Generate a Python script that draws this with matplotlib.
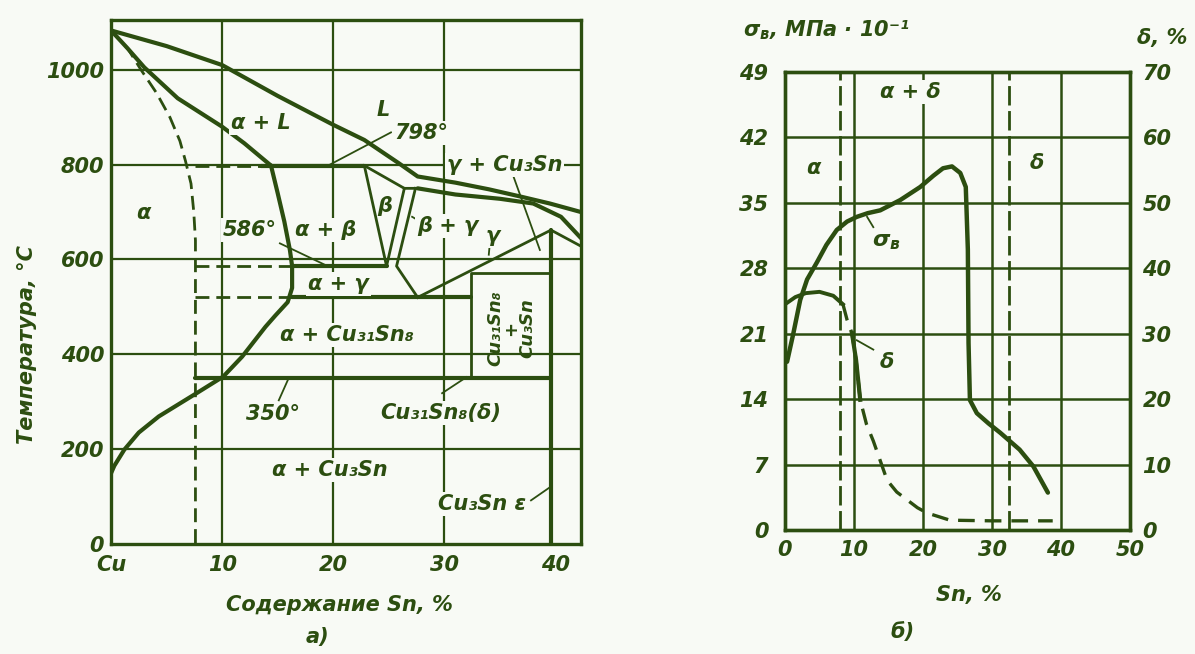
import matplotlib.pyplot as plt

W, H = 1195, 654
INK = '#2c4e10'
PAPER = '#f8faf5'

plt.rcParams['mathtext.fontset'] = 'custom'
plt.rcParams['mathtext.rm'] = 'DejaVu Sans:italic:bold'
plt.rcParams['mathtext.it'] = 'DejaVu Sans:italic:bold'

# ---------- a) Cu-Sn phase diagram (Sn, wt.% / temperature, °C) ----------
liquidus_sn = [0, 5, 10, 15, 20, 22.8, 25.9, 27.6, 31, 34, 36.8, 39.5, 42.3]
liquidus_t = [1083, 1050, 1010, 945, 884, 852, 803, 775, 762, 748, 733, 718, 700]
solidus_sn = [0, 1.5, 3, 6, 10, 12, 14.4]
solidus_t = [1083, 1045, 1005, 940, 880, 845, 798]
nonequil_sn = [0, 1.5, 2.7, 4.1, 5.3, 6.2, 6.7, 7.2, 7.45, 7.6, 7.6]
nonequil_t = [1083, 1045, 1000, 951, 900, 850, 808, 760, 700, 640, 0]
alpha_sn = [14.4, 15.0, 15.6, 16.1, 16.3, 16.3, 15.9, 14.8, 13.9, 11.8, 10.1, 7.7, 4.3, 2.5, 1.2, 0.3, 0]
alpha_t = [798, 740, 680, 620, 586, 540, 510, 482, 458, 395, 353, 318, 269, 235, 199, 165, 149]
beta_left_sn = [22.8, 24.8]
beta_left_t = [798, 586]
beta_top_sn = [22.8, 26.4, 27.6]
beta_top_t = [798, 750, 750]
beta_right_sn = [26.4, 24.8]
beta_right_t = [750, 586]
gamma_left_sn = [27.4, 25.7, 27.6]
gamma_left_t = [750, 586, 520]
gamma_top_sn = [27.6, 31, 35, 38, 40.5, 42.3]
gamma_top_t = [750, 737, 728, 718, 690, 645]
gamma_eut_sn = [27.6, 39.6]
gamma_eut_t = [520, 662]
apex_sn = [39.6, 42.3]
apex_t = [662, 628]
eps_sn = [39.6, 39.6]
eps_t = [0, 662]
box_sn = [32.4, 32.4, 39.6]
box_t = [350, 571, 571]

# isotherms: temperature, dashed from, solid from, solid to
iso_t = [798, 586, 520, 350]
iso_dash_from = [7.6, 7.6, 7.6, 7.6]
iso_solid_from = [13.5, 16.3, 16.3, 7.6]
iso_solid_to = [22.8, 24.8, 32.4, 39.6]

# ---------- б) properties vs Sn ----------
sigma_sn = [0.3, 1.2, 2.2, 3.2, 4.6, 6.0, 7.5, 9.0, 10.4, 12.0, 13.8, 16.7, 19.6, 21.5, 22.9,
            24.2, 25.4, 26.2, 26.5, 26.6, 26.8, 27.8, 29.5, 31.2, 34.0, 36.0, 38.1]
sigma_mpa = [18.0, 21.0, 24.6, 26.8, 28.6, 30.5, 32.1, 33.0, 33.5, 33.9, 34.2, 35.3, 36.7, 37.9, 38.7,
             38.9, 38.2, 36.7, 30.0, 20.0, 13.9, 12.5, 11.4, 10.4, 8.6, 6.8, 4.0]
delta_sn = [0, 1.5, 3, 5, 7, 8.4, 9.0, 9.7, 10.3, 10.9, 11.8, 12.8, 14.8, 16.2, 17.7, 19.2, 20.6, 23.9, 30, 38.8]
delta_pct = [34.5, 35.6, 36.2, 36.4, 35.8, 34.5, 32.1, 30.1, 26.0, 19.9, 16.2, 13.6, 7.6, 5.8, 4.6, 3.4, 2.6, 1.5, 1.4, 1.4]
phase_limits = [8, 32.5]

left_yticks = [0, 200, 400, 600, 800, 1000]
left_xticks = [0, 10, 20, 30, 40]
left_xlabels = ['Cu', '10', '20', '30', '40']
right_sigma_ticks = [0, 7, 14, 21, 28, 35, 42, 49]
right_delta_ticks = [0, 10, 20, 30, 40, 50, 60, 70]
right_xticks = [0, 10, 20, 30, 40, 50]

FONT = dict(family='DejaVu Sans', style='italic', weight='bold', color=INK)
BOX = dict(facecolor=PAPER, edgecolor='none', pad=1.5)

fig = plt.figure(figsize=(W / 100, H / 100), dpi=100, facecolor=PAPER)


def style_axes(ax):
    ax.set_facecolor(PAPER)
    for s in ax.spines.values():
        s.set_color(INK)
        s.set_linewidth(2.4)
    ax.tick_params(length=0, colors=INK, labelsize=15)
    for lab in ax.get_xticklabels() + ax.get_yticklabels():
        lab.set_fontstyle('italic')
        lab.set_fontweight('bold')


def txt(ax, x, y, s, size=15, box=True, **kw):
    ax.text(x, y, s, ha='center', va='center', fontsize=size, zorder=5,
            bbox=BOX if box else None, **FONT, **kw)


# ================= left panel =================
ax = fig.add_axes([111 / W, 1 - 544 / H, 470 / W, 524 / H])
ax.set_xlim(0, 42.3)
ax.set_ylim(0, 1105)
ax.set_xticks(left_xticks, left_xlabels)
ax.set_yticks(left_yticks)
ax.tick_params(axis='x', pad=8)
ax.tick_params(axis='y', pad=5)
style_axes(ax)

for x in left_xticks[1:4]:
    ax.axvline(x, color=INK, lw=1.6, zorder=1)
for y in left_yticks[1:]:
    ax.axhline(y, color=INK, lw=1.6, zorder=1)

thick = dict(color=INK, lw=3.0, solid_capstyle='round', zorder=3)
thin = dict(color=INK, lw=2.0, zorder=3)
dash = dict(color=INK, lw=2.0, ls=(0, (5, 2.5)), zorder=3)

ax.plot(liquidus_sn, liquidus_t, **thick)
ax.plot(solidus_sn, solidus_t, **thick)
ax.plot(nonequil_sn, nonequil_t, **dash)
ax.plot(alpha_sn, alpha_t, **thick)
ax.plot(beta_left_sn, beta_left_t, **thin)
ax.plot(beta_top_sn, beta_top_t, **thin)
ax.plot(beta_right_sn, beta_right_t, **thin)
ax.plot(gamma_left_sn, gamma_left_t, **thin)
ax.plot(gamma_top_sn, gamma_top_t, **thick)
ax.plot(gamma_eut_sn, gamma_eut_t, **thin)
ax.plot(apex_sn, apex_t, **thin)
ax.plot(eps_sn, eps_t, **thick)
ax.plot(box_sn, box_t, **thin)
for t, d0, s0, s1 in zip(iso_t, iso_dash_from, iso_solid_from, iso_solid_to):
    if s0 > d0:
        ax.plot([d0, s0], [t, t], **dash)
    ax.plot([s0, s1], [t, t], **thick)

# leader lines
lead = dict(color=INK, lw=1.3, zorder=4)
ax.plot([25.2, 19.7], [868, 800], **lead)
ax.plot([15.2, 19.5], [634, 586], **lead)
ax.plot([36.1, 38.6], [783, 620], **lead)
ax.plot([28.2, 27.1], [675, 690], **lead)
ax.plot([34.1, 34.0], [635, 610], **lead)
ax.plot([15.9, 15.1], [345, 303], **lead)
ax.plot([32.0, 29.8], [352, 318], **lead)
ax.plot([37.8, 39.4], [92, 118], **lead)

txt(ax, 2.9, 698, 'α')
txt(ax, 13.5, 888, 'α + L')
txt(ax, 24.5, 916, 'L')
txt(ax, 27.9, 866, '798°')
txt(ax, 35.4, 800, 'γ + Cu₃Sn')
txt(ax, 24.6, 712, 'β', box=False)
txt(ax, 30.3, 670, 'β + γ')
txt(ax, 34.4, 650, 'γ')
txt(ax, 12.5, 662, '586°')
txt(ax, 19.3, 662, 'α + β')
txt(ax, 20.5, 548, 'α + γ')
txt(ax, 21.2, 441, 'α + Cu₃₁Sn₈')
ax.text(36.0, 455, 'Cu₃₁Sn₈\n+\nCu₃Sn', rotation=90, ha='center', va='center', fontsize=13,
        linespacing=0.85, multialignment='center', zorder=5, **FONT)
txt(ax, 14.6, 274, '350°')
txt(ax, 29.7, 276, 'Cu₃₁Sn₈(δ)')
txt(ax, 19.7, 156, 'α + Cu₃Sn')
txt(ax, 33.4, 84, 'Cu₃Sn ε')

fig.text(27 / W, 1 - 345 / H, 'Температура, °C', rotation=90, ha='center', va='center', fontsize=15, **FONT)
fig.text(339 / W, 1 - 605 / H, 'Содержание Sn, %', ha='center', va='center', fontsize=15, **FONT)
fig.text(317 / W, 1 - 637 / H, 'а)', ha='center', va='center', fontsize=15, **FONT)

# ================= right panel =================
bx = fig.add_axes([785 / W, 1 - 530 / H, 345 / W, 458 / H])
bx.set_xlim(0, 50)
bx.set_ylim(0, 49)
bx.set_xticks(right_xticks)
bx.set_yticks(right_sigma_ticks)
bx.tick_params(axis='x', pad=7)
bx.tick_params(axis='y', pad=12)
style_axes(bx)
tx = bx.twinx()
tx.set_ylim(0, 70)
tx.set_yticks(right_delta_ticks)
tx.tick_params(axis='y', pad=9)
style_axes(tx)

for x in right_xticks[1:-1]:
    bx.axvline(x, color=INK, lw=1.8, zorder=1)
for y in right_sigma_ticks[1:-1]:
    bx.axhline(y, color=INK, lw=1.8, zorder=1)
for x in phase_limits:
    bx.axvline(x, color=INK, lw=2.0, ls=(0, (7, 2)), zorder=1)

bx.plot(sigma_sn, sigma_mpa, color=INK, lw=3.2, solid_capstyle='round', zorder=3)
tx.plot(delta_sn[:6], delta_pct[:6], color=INK, lw=2.8, zorder=3)
tx.plot(delta_sn[5:], delta_pct[5:], color=INK, lw=2.4, ls=(0, (5, 3)), zorder=3)
tx.plot(delta_sn[7:10], delta_pct[7:10], color=INK, lw=3.0, zorder=3)

bx.plot([11.9, 12.8], [33.5, 32.4], **lead)
bx.plot([10.4, 12.8], [20.3, 19.3], **lead)
txt(bx, 4.1, 38.7, 'α')
txt(bx, 18.1, 46.9, 'α + δ')
txt(bx, 36.5, 39.3, 'δ')
txt(bx, 14.7, 30.8, '$σ_в$', size=16, box=False)
txt(bx, 14.8, 18.0, 'δ', box=False)

fig.text(826 / W, 1 - 30 / H, '$σ_в$, МПа · 10⁻¹', ha='center', va='center', fontsize=15, **FONT)
fig.text(1162 / W, 1 - 38 / H, 'δ, %', ha='center', va='center', fontsize=15, **FONT)
fig.text(969 / W, 1 - 595 / H, 'Sn, %', ha='center', va='center', fontsize=15, **FONT)
fig.text(903 / W, 1 - 632 / H, 'б)', ha='center', va='center', fontsize=15, **FONT)

fig.savefig('out.png', dpi=100, facecolor=PAPER)
